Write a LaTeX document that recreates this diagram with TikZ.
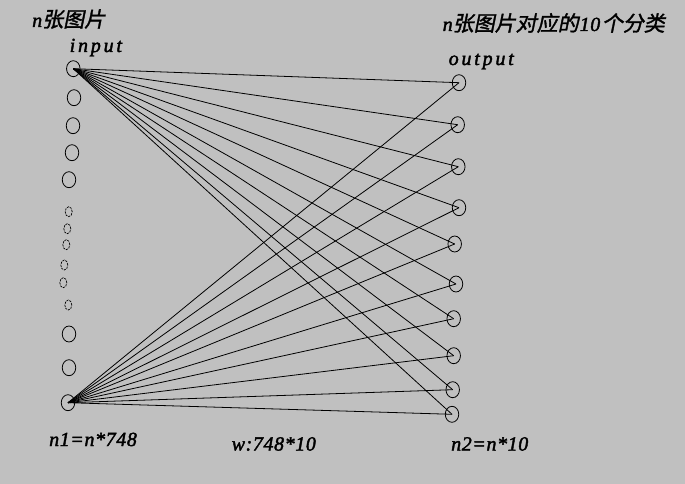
\documentclass[tikz,border=0pt]{standalone}
\usepackage{fontspec}
\setmainfont{Liberation Serif}
\newfontfamily\latf{Liberation Serif}[ItalicFont={* Italic},ItalicFeatures={FakeBold=2}]
\newfontfamily\cjk{Noto Sans CJK SC}[FakeSlant=0.2,FakeBold=1.5]
\usetikzlibrary{shapes.geometric}
\definecolor{bg}{RGB}{192,192,192}
\newcommand{\cjkt}[1]{{\cjk\fontsize{21}{23}\selectfont #1}}
\tikzset{
  neuron/.style={draw=black, line width=0.8pt, ellipse, minimum width=13.5pt, minimum height=16pt, inner sep=0pt},
  smallneuron/.style={draw=black, line width=0.7pt, ellipse, minimum width=7pt, minimum height=10pt, inner sep=0pt, dash pattern=on 2.2pt off 1pt},
  wire/.style={draw=black, line width=0.8pt},
  lbl/.style={anchor=base west, inner sep=0pt, font=\latf\itshape\fontsize{20}{22}\selectfont\addfontfeature{LetterSpace=3}},
  spaced/.style={anchor=base west, inner sep=0pt, font=\latf\itshape\fontsize{20}{22}\selectfont\addfontfeature{LetterSpace=14}}
}
\begin{document}
\begin{tikzpicture}[x=1pt,y=-1pt]
\fill[bg] (0,0) rectangle (685,484);
\useasboundingbox (0,0) rectangle (685,484);
% left column
\node[neuron] (l1) at (73.3,68.7) {};
\node[neuron] (l2) at (74,97.7) {};
\node[neuron] (l3) at (73,125.7) {};
\node[neuron] (l4) at (72,152.7) {};
\node[neuron] (l5) at (69,179.7) {};
\node[smallneuron] (s1) at (68.7,211.7) {};
\node[smallneuron] (s2) at (67.3,228.7) {};
\node[smallneuron] (s3) at (66.3,244.7) {};
\node[smallneuron] (s4) at (64.3,265) {};
\node[smallneuron] (s5) at (63.3,282.7) {};
\node[smallneuron] (s6) at (68.3,305) {};
\node[neuron] (l6) at (69,334) {};
\node[neuron] (l7) at (69,367.7) {};
\node[neuron] (l8) at (68,402.7) {};
% right column
\node[neuron] (r1) at (459,82.7) {};
\node[neuron] (r2) at (457.7,124.7) {};
\node[neuron] (r3) at (458.3,166.7) {};
\node[neuron] (r4) at (459,207.7) {};
\node[neuron] (r5) at (454.7,244) {};
\node[neuron] (r6) at (456,284) {};
\node[neuron] (r7) at (453.7,318.7) {};
\node[neuron] (r8) at (453.7,355.7) {};
\node[neuron] (r9) at (452.7,389.7) {};
\node[neuron] (r10) at (452,414.3) {};
% connections
\foreach \r in {1,...,10}{
  \draw[wire] (l1.center) -- (r\r.center);
  \draw[wire] (l8.center) -- (r\r.center);
}
% labels
\node[lbl] (t1) at (32,27) {n\cjkt{张图片}};
\node[spaced] (t2) at (69.5,52) {input};
\node[lbl] (t3) at (442.5,31) {n\cjkt{张图片对应的}\kern1pt 10\kern1.5pt\cjkt{个分类}};
\node[spaced] (t4) at (448.5,65) {output};
\node[lbl] (t5) at (49,446) {n1=n*748};
\node[lbl] (t6) at (231.5,450.5) {w:748*10};
\node[lbl] (t7) at (451,450.5) {n2=n*10};
\end{tikzpicture}
\end{document}
